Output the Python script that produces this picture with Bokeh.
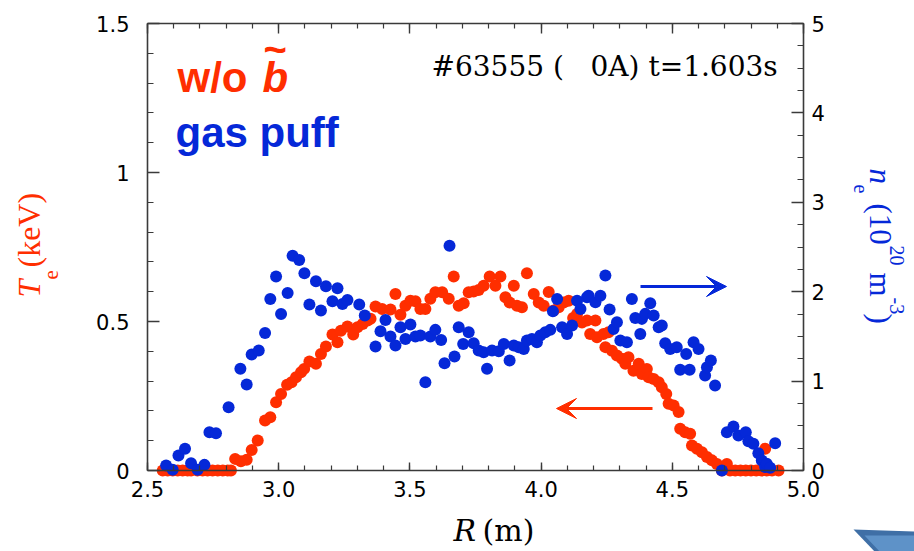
from bokeh.plotting import figure
from bokeh.models import (Range1d, LinearAxis, FixedTicker, PrintfTickFormatter,
                          Label, Arrow, VeeHead, PolyAnnotation, ColumnDataSource)
from bokeh.embed import file_html
from bokeh.resources import INLINE
import math

# ---- electron temperature profile (keV) vs major radius R (m)
te_r = [2.558, 2.577, 2.596, 2.615, 2.634, 2.653, 2.666, 2.690, 2.710, 2.729,
        2.748, 2.768, 2.787, 2.806, 2.818, 2.834, 2.856, 2.878, 2.897, 2.920,
        2.948, 2.968, 2.990, 3.009, 3.032, 3.049, 3.066, 3.085, 3.097, 3.117,
        3.142, 3.161, 3.180, 3.205, 3.224, 3.237, 3.262, 3.284, 3.300, 3.320,
        3.339, 3.350, 3.369, 3.394, 3.426, 3.445, 3.464, 3.483, 3.502, 3.521,
        3.540, 3.559, 3.578, 3.597, 3.623, 3.648, 3.667, 3.686, 3.705, 3.724,
        3.743, 3.762, 3.781, 3.804, 3.826, 3.845, 3.864, 3.880, 3.896, 3.908,
        3.927, 3.946, 3.972, 3.991, 4.010, 4.029, 4.048, 4.067, 4.086, 4.105,
        4.122, 4.137, 4.156, 4.175, 4.187, 4.207, 4.213, 4.238, 4.245, 4.257,
        4.270, 4.289, 4.308, 4.321, 4.333, 4.352, 4.372, 4.384, 4.403, 4.410,
        4.429, 4.448, 4.460, 4.477, 4.486, 4.505, 4.524, 4.530, 4.549, 4.568,
        4.575, 4.594, 4.613, 4.632, 4.651, 4.670, 4.689, 4.708, 4.720, 4.740,
        4.760, 4.780, 4.800, 4.820, 4.840, 4.854, 4.860, 4.880, 4.905]
te_kev = [0.000, 0.000, 0.000, 0.000, 0.000, 0.000, 0.000, 0.000, 0.000, 0.000,
          0.000, 0.000, 0.000, 0.000, 0.000, 0.039, 0.031, 0.036, 0.069, 0.101,
          0.168, 0.179, 0.229, 0.257, 0.288, 0.296, 0.313, 0.330, 0.341, 0.366,
          0.358, 0.391, 0.416, 0.456, 0.430, 0.469, 0.483, 0.456, 0.481, 0.492,
          0.503, 0.509, 0.550, 0.542, 0.540, 0.592, 0.523, 0.553, 0.570, 0.568,
          0.542, 0.542, 0.576, 0.598, 0.598, 0.576, 0.651, 0.553, 0.561, 0.598,
          0.601, 0.606, 0.620, 0.651, 0.620, 0.651, 0.581, 0.564, 0.620, 0.553,
          0.548, 0.662, 0.592, 0.564, 0.553, 0.599, 0.537, 0.548, 0.564, 0.570,
          0.512, 0.525, 0.497, 0.503, 0.458, 0.503, 0.447, 0.458, 0.414, 0.464,
          0.402, 0.386, 0.375, 0.358, 0.380, 0.335, 0.358, 0.324, 0.341, 0.313,
          0.307, 0.296, 0.279, 0.257, 0.224, 0.218, 0.196, 0.140, 0.128, 0.123,
          0.084, 0.073, 0.061, 0.045, 0.034, 0.022, 0.000, 0.022, 0.000, 0.000,
          0.000, 0.000, 0.000, 0.000, 0.000, 0.073, 0.000, 0.000, 0.000]

# ---- electron density profile (10^20 m^-3) vs major radius R (m)
ne_r = [2.571, 2.596, 2.618, 2.643, 2.666, 2.691, 2.717, 2.736, 2.761, 2.809,
        2.854, 2.878, 2.897, 2.924, 2.948, 2.968, 2.990, 3.009, 3.034, 3.053,
        3.078, 3.098, 3.117, 3.142, 3.161, 3.180, 3.205, 3.224, 3.243, 3.262,
        3.307, 3.328, 3.369, 3.388, 3.407, 3.426, 3.445, 3.464, 3.483, 3.502,
        3.521, 3.540, 3.559, 3.578, 3.597, 3.619, 3.632, 3.651, 3.670, 3.686,
        3.703, 3.724, 3.743, 3.762, 3.781, 3.794, 3.813, 3.839, 3.858, 3.880,
        3.896, 3.915, 3.934, 3.946, 3.965, 3.984, 3.997, 4.016, 4.035, 4.045,
        4.061, 4.080, 4.099, 4.118, 4.137, 4.150, 4.175, 4.181, 4.207, 4.226,
        4.245, 4.261, 4.276, 4.289, 4.302, 4.327, 4.346, 4.359, 4.378, 4.384,
        4.397, 4.416, 4.429, 4.448, 4.460, 4.473, 4.492, 4.517, 4.530, 4.553,
        4.566, 4.581, 4.600, 4.625, 4.632, 4.647, 4.663, 4.689, 4.708, 4.733,
        4.752, 4.780, 4.790, 4.809, 4.828, 4.841, 4.854, 4.860, 4.873, 4.892]
ne_val = [0.056, 0.008, 0.168, 0.242, 0.082, 0.008, 0.063, 0.429, 0.417, 0.708,
          1.137, 0.961, 1.297, 1.341, 1.539, 1.919, 2.169, 1.751, 1.986, 2.403,
          2.355, 2.206, 1.856, 2.116, 1.789, 2.061, 1.893, 2.038, 1.863, 1.908,
          1.856, 1.733, 1.386, 1.557, 1.684, 1.498, 1.397, 1.602, 1.472, 1.632,
          1.498, 1.509, 0.987, 1.498, 1.573, 1.461, 1.200, 2.515, 1.274, 1.602,
          1.416, 1.546, 1.423, 1.341, 1.323, 1.137, 1.341, 1.335, 1.416, 1.230,
          1.397, 1.379, 1.360, 1.453, 1.472, 1.434, 1.509, 1.546, 1.573, 1.781,
          1.919, 1.602, 1.528, 1.621, 1.900, 1.807, 1.937, 1.956, 1.882, 1.956,
          2.180, 1.800, 1.584, 1.658, 1.453, 1.434, 1.919, 1.707, 1.528, 1.696,
          1.752, 1.870, 1.733, 1.602, 1.621, 1.423, 1.360, 1.379, 1.126, 1.304,
          1.126, 1.434, 1.360, 1.062, 1.155, 1.230, 0.950, 0.000, 0.429, 0.492,
          0.391, 0.429, 0.328, 0.298, 0.194, 0.112, 0.040, 0.075, 0.030, 0.306]

# ---- axis ticks
r_ticks = [2.5, 3.0, 3.5, 4.0, 4.5, 5.0]
r_minor = [round(2.5 + 0.1 * i, 2) for i in range(26)]
te_ticks = [0, 0.5, 1, 1.5]
te_minor = [round(0.1 * i, 2) for i in range(16)]
ne_ticks = [0, 1, 2, 3, 4, 5]
ne_minor = [0.25 * i for i in range(21)]

RED = "#ff2e00"
BLUE = "#0528d8"
AX = "#3a3a3a"

W, H = 914, 551
FL, FR, FT, FB = 147, 803, 23, 470   # edges of the axes box (px)
R0, R1, T0, T1, N1 = 2.5, 5.0, 0.0, 1.5, 5.0


def rx(px):
    return R0 + (px - FL) * (R1 - R0) / (FR - FL)


def ty(py):
    return T0 + (FB - py) * (T1 - T0) / (FB - FT)


# the frame spans the whole canvas; the axes box is drawn by bounded axes
p = figure(width=W, height=H, output_backend="svg", toolbar_location=None,
           x_range=Range1d(rx(0), rx(W)), y_range=Range1d(ty(H), ty(0)),
           x_axis_location=None, y_axis_location=None, min_border=0)
p.extra_y_ranges = {"ne": Range1d(ty(H) * N1 / T1, ty(0) * N1 / T1)}
p.grid.visible = False
p.outline_line_color = None
p.background_fill_color = "white"
p.border_fill_color = "white"


def style(ax, major_in, minor_in, standoff):
    ax.axis_line_color = AX
    ax.axis_line_width = 1.6
    ax.major_tick_in = major_in
    ax.major_tick_out = 0
    ax.minor_tick_in = minor_in
    ax.minor_tick_out = 0
    ax.major_tick_line_color = AX
    ax.minor_tick_line_color = AX
    ax.major_tick_line_width = 1.4
    ax.minor_tick_line_width = 1.2
    ax.major_label_standoff = standoff
    ax.major_label_text_font = "DejaVu Sans"
    ax.major_label_text_font_size = "21px"
    ax.major_label_text_color = "black"


xb = LinearAxis(ticker=FixedTicker(ticks=r_ticks, minor_ticks=r_minor),
                formatter=PrintfTickFormatter(format="%.1f"),
                fixed_location=T0, bounds=(R0, R1))
style(xb, 8, 5, 10)
p.add_layout(xb, "below")

xt = LinearAxis(ticker=FixedTicker(ticks=r_ticks, minor_ticks=r_minor),
                major_label_overrides={t: "" for t in r_ticks},
                fixed_location=T1, bounds=(R0, R1))
style(xt, 10, 5, 0)
p.add_layout(xt, "above")

yl = LinearAxis(ticker=FixedTicker(ticks=te_ticks, minor_ticks=te_minor),
                formatter=PrintfTickFormatter(format="%g"),
                fixed_location=R0, bounds=(T0, T1))
style(yl, 12, 6, 18)
p.add_layout(yl, "left")

yr = LinearAxis(y_range_name="ne",
                ticker=FixedTicker(ticks=ne_ticks, minor_ticks=ne_minor),
                formatter=PrintfTickFormatter(format="%g"),
                fixed_location=R1, bounds=(0, N1))
style(yr, 12, 6, 8)
p.add_layout(yr, "right")

# ---- data points
te_src = ColumnDataSource(dict(r=te_r, v=te_kev))
ne_src = ColumnDataSource(dict(r=ne_r, v=ne_val))
p.scatter("r", "v", source=te_src, size=12, fill_color=RED, line_color=None)
p.scatter("r", "v", source=ne_src, size=12, fill_color=BLUE, line_color=None,
          y_range_name="ne")

# ---- arrows pointing to each profile's axis
p.add_layout(Arrow(end=VeeHead(size=20, fill_color=BLUE, line_color=BLUE, line_width=1),
                   x_start=rx(640), y_start=ty(286), x_end=rx(726), y_end=ty(286),
                   line_color=BLUE, line_width=3))
p.add_layout(Arrow(end=VeeHead(size=20, fill_color=RED, line_color=RED, line_width=1),
                   x_start=rx(652), y_start=ty(408), x_end=rx(556), y_end=ty(408),
                   line_color=RED, line_width=3))

DROP = 0.36   # alphabetic baseline sits this fraction of the size below the anchor


def put(text, px, py, size, color, font="Liberation Serif", style_="normal",
        angle=0.0):
    # px, py: start of the text's baseline in canvas pixels
    dx = -DROP * size * math.sin(angle)
    dy = -DROP * size * math.cos(angle)
    p.add_layout(Label(x=rx(px + dx), y=ty(py + dy), text=text, text_font=font,
                       text_font_size=f"{size}px", text_font_style=style_,
                       text_color=color, angle=angle, text_align="left",
                       text_baseline="alphabetic"))


# captions
put("w/o", 177, 92, 42, RED, font="Liberation Sans", style_="bold")
put("b", 262, 92, 42, RED, font="Liberation Sans", style_="bold italic")
put("~", 263, 63, 40, RED, font="Liberation Sans", style_="bold")
put("gas puff", 175, 147, 42, BLUE, font="Liberation Sans", style_="bold")

# shot information
put("#63555 (\u00a0\u00a0\u00a00A) t=1.603s", 431, 76, 28, "black", font="DejaVu Serif")

# x-axis title
put("R", 453, 541, 30, "black", font="DejaVu Serif", style_="italic")
put("(m)", 482, 541, 30, "black", font="DejaVu Serif")

# left title: T_e (keV), reading upward
up = math.pi / 2
put("T", 40, 297, 32, RED, style_="italic", angle=up)
put("e", 58, 279, 21, RED, angle=up)
put("(keV)", 40, 267, 32, RED, angle=up)

# right title: n_e (10^20 m^-3), reading downward
dn = -math.pi / 2
put("n", 869, 168, 31, BLUE, style_="italic", angle=dn)
put("e", 853, 184, 20, BLUE, angle=dn)
put("(10", 869, 203, 31, BLUE, angle=dn)
put("20", 889, 245, 20, BLUE, angle=dn)
put("m", 869, 272, 31, BLUE, angle=dn)
put("-3", 889, 297, 20, BLUE, angle=dn)
put(")", 869, 313, 31, BLUE, angle=dn)

# corner navigation tab
p.add_layout(PolyAnnotation(xs=[rx(853), rx(916), rx(916), rx(876)],
                            ys=[ty(529), ty(531), ty(553), ty(553)],
                            fill_color="#3f6fa6", fill_alpha=1.0, line_color=None))
p.add_layout(PolyAnnotation(xs=[rx(864), rx(916), rx(916), rx(881)],
                            ys=[ty(535), ty(535), ty(553), ty(553)],
                            fill_color="#5e92c8", fill_alpha=1.0, line_color=None))

open("out.html", "w").write(file_html(p, INLINE))
